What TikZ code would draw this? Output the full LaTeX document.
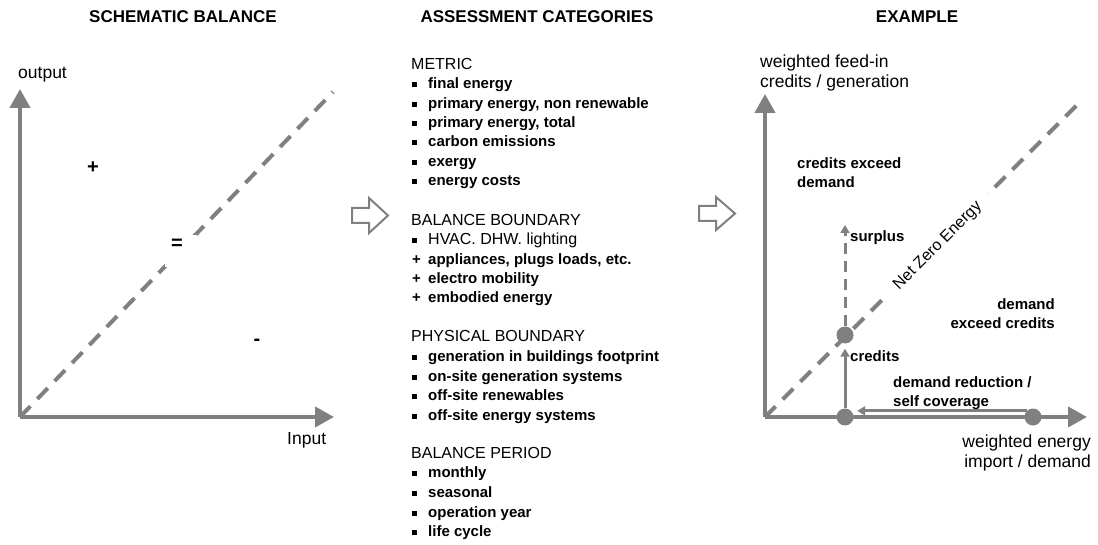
\documentclass[tikz,border=0pt]{standalone}
\usepackage{fontspec}
\setmainfont{Liberation Sans}
\usetikzlibrary{arrows.meta}
\definecolor{ax}{RGB}{128,128,128}
\newcommand{\sqbul}{\makebox[16pt][l]{\raisebox{1.5pt}{\rule{5pt}{5pt}}}}
\newcommand{\plbul}{\makebox[16pt][l]{\bfseries +}}
\begin{document}
\begin{tikzpicture}[x=1pt,y=-1pt,
  axisarrow/.style={draw=ax, line width=4pt, -{Triangle[length=19pt,width=20pt]}},
  diag/.style={draw=ax, line width=4pt, dash pattern=on 15pt off 10pt},
  thinarrow/.style={draw=ax, line width=3pt, -{Triangle[length=8pt,width=9pt]}},
  thindash/.style={thinarrow, dash pattern=on 11pt off 7pt},
  dot/.style={circle, fill=ax, minimum size=17pt, inner sep=0pt},
  hollow/.style={draw=ax, line width=2pt, fill=white, line join=miter},
  ttl/.style={font=\fontsize{17}{20}\selectfont\bfseries, inner sep=0pt},
  axlabel/.style={font=\fontsize{17.5}{20}\selectfont, inner sep=0pt},
  sign/.style={font=\fontsize{20}{22}\selectfont\bfseries, inner sep=0pt},
  lbl/.style={font=\fontsize{15}{19}\selectfont\bfseries, inner sep=0pt},
  hdr/.style={anchor=west, inner sep=0pt, text height=1.5ex, text depth=.25ex, font=\fontsize{16}{19}\selectfont},
  item/.style={anchor=west, inner sep=0pt, text height=1.5ex, text depth=.25ex, font=\fontsize{15}{19}\selectfont\bfseries},
  itemr/.style={anchor=west, inner sep=0pt, text height=1.5ex, text depth=.25ex, font=\fontsize{16}{19}\selectfont},
  gapbox/.style={fill=white, minimum size=32pt, inner sep=0pt},
]
\useasboundingbox (0,0) rectangle (1098,545);

% ---------- titles ----------
\node[ttl] (t1) at (183,17) {SCHEMATIC BALANCE};
\node[ttl] (t2) at (537,17) {ASSESSMENT CATEGORIES};
\node[ttl] (t3) at (917,17) {EXAMPLE};

% ---------- left panel ----------
\coordinate (O1) at (20,417);
\coordinate (Y1) at (20,89);
\coordinate (X1) at (334,417);
\coordinate (D1) at (333,92);
\draw[diag] (O1) -- (D1);
\node[gapbox] (eqgap) at (181,251) {};
\node[sign] (eq) at (177,244) {=};
\node[sign] (plus) at (93,168) {+};
\node[sign] (minus) at (257,342) {-};
\draw[axisarrow] (O1) -- (Y1);
\draw[axisarrow] (O1) -- (X1);
\node[axlabel, anchor=west] (outl) at (18,75) {output};
\node[axlabel, anchor=west] (inl) at (287,440) {Input};

% ---------- hollow arrows ----------
\draw[hollow, shift={(352,215.5)}] (0,-7.5) -- (17,-7.5) -- (17,-17.5) -- (36,0) -- (17,17.5) -- (17,7.5) -- (0,7.5) -- cycle;
\draw[hollow, shift={(699,213.5)}] (0,-7.5) -- (17,-7.5) -- (17,-16.5) -- (36,0) -- (17,16.5) -- (17,7.5) -- (0,7.5) -- cycle;

% ---------- middle column ----------
\node[hdr] (h1) at (411,66) {METRIC};
\node[item] (m1) at (412,85) {\sqbul final energy};
\node[item] (m2) at (412,105) {\sqbul primary energy, non renewable};
\node[item] (m3) at (412,124) {\sqbul primary energy, total};
\node[item] (m4) at (412,143) {\sqbul carbon emissions};
\node[item] (m5) at (412,163) {\sqbul exergy};
\node[item] (m6) at (412,182) {\sqbul energy costs};

\node[hdr] (h2) at (411,222) {BALANCE BOUNDARY};
\node[itemr] (b1) at (412,241) {\sqbul HVAC. DHW. lighting};
\node[item] (b2) at (412,261) {\plbul appliances, plugs loads, etc.};
\node[item] (b3) at (412,280) {\plbul electro mobility};
\node[item] (b4) at (412,299) {\plbul embodied energy};

\node[hdr] (h3) at (411,338) {PHYSICAL BOUNDARY};
\node[item] (p1) at (412,358) {\sqbul generation in buildings footprint};
\node[item] (p2) at (412,378) {\sqbul on-site generation systems};
\node[item] (p3) at (412,397) {\sqbul off-site renewables};
\node[item] (p4) at (412,417) {\sqbul off-site energy systems};

\node[hdr] (h4) at (411,455) {BALANCE PERIOD};
\node[item] (q1) at (412,474) {\sqbul monthly};
\node[item] (q2) at (412,494) {\sqbul seasonal};
\node[item] (q3) at (412,514) {\sqbul operation year};
\node[item] (q4) at (412,533) {\sqbul life cycle};

% ---------- right panel ----------
\coordinate (O2) at (765,417);
\coordinate (Y2) at (765,94);
\coordinate (X2) at (1087,417);
\coordinate (D2) at (1082,100);
\draw[diag] (O2) -- (D2);
\node[fill=white, rotate=45, inner xsep=13pt, inner ysep=3pt,
      font=\fontsize{16}{18}\selectfont] (nze) at (938,246) {Net Zero Energy};
\draw[axisarrow] (O2) -- (Y2);
\draw[axisarrow] (O2) -- (X2);

\node[dot] (P0) at (845,417) {};
\node[dot] (P1) at (845,335) {};
\node[dot] (P2) at (1033,417) {};
\coordinate (S) at (845,225);

\draw[thinarrow, shorten >=5pt] (P0) -- (P1);
\draw[thindash] (P1) -- (S);
\draw[thinarrow, shorten >=6pt] (P2.north west) -- (P0.north east);

\node[axlabel, anchor=west, align=left] (ylab) at (760,73) {weighted feed-in\\credits / generation};
\node[axlabel, anchor=east, align=right] (xlab) at (1091,453) {weighted energy\\import / demand};
\node[lbl, anchor=west, align=left] (ced) at (797,172.5) {credits exceed\\demand};
\node[lbl, anchor=east, align=right] (dec) at (1055,314) {demand\\exceed credits};
\node[lbl, anchor=west, align=left] (drs) at (893,393) {demand reduction /\\self coverage};
\node[lbl, anchor=west] (sur) at (850,238) {surplus};
\node[lbl, anchor=west] (cre) at (850,356) {credits};
\end{tikzpicture}
\end{document}
